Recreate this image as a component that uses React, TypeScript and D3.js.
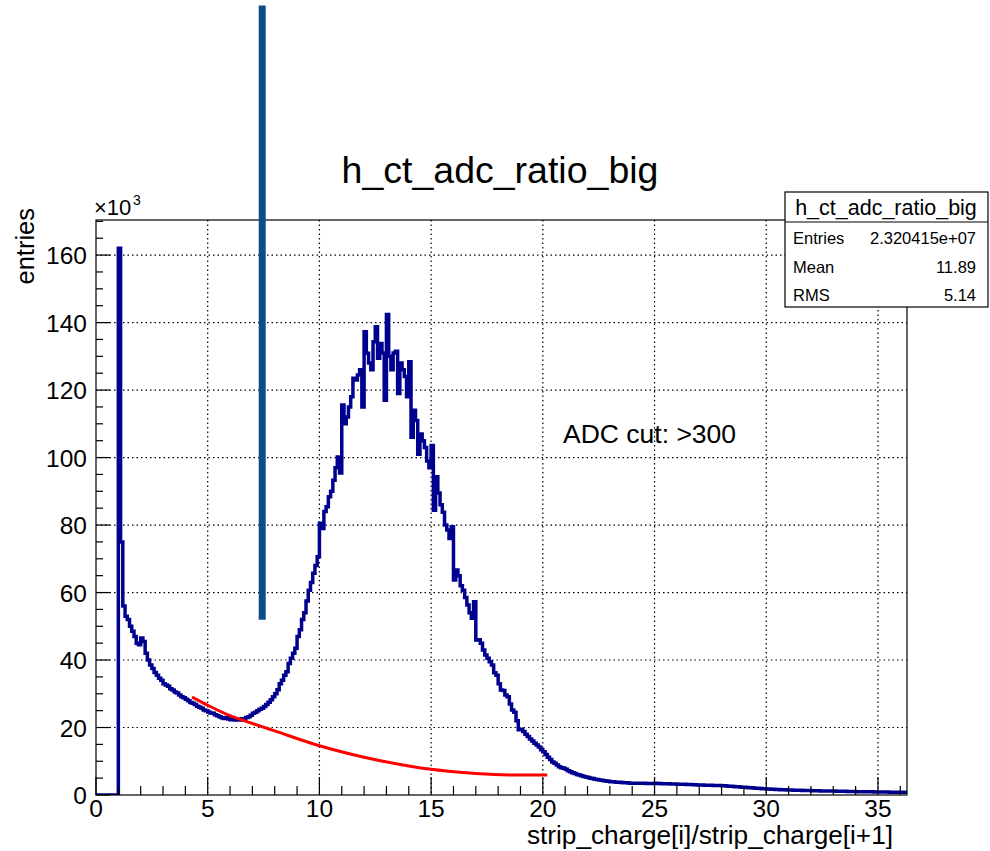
import React from "react";
import * as d3 from "d3";

// ---- data (values in units of 10^3 entries), bins of width 0.1 starting at 0 ----
const BIN_START = 0;
const BIN_WIDTH = 0.1;
const histValues: number[] = [
  // 0.0 - 0.9
  0, 0, 0, 0, 0, 0, 0, 0, 0, 0,
  // 1.0 - 1.9
  162, 75, 56, 53, 52, 50, 48.5, 47, 45, 44.5,
  // 2.0 - 2.9
  46.5, 45.5, 42, 40, 38.5, 37.5, 36.3, 35.5, 34.6, 34,
  // 3.0 - 3.9
  33, 32.6, 32.2, 31.5, 31.1, 30.5, 30.2, 29.6, 29.1, 28.8,
  // 4.0 - 4.9
  28.4, 27.9, 27.4, 27.2, 26.8, 26.3, 26, 25.7, 25.2, 25,
  // 5.0 - 5.9
  24.6, 24.3, 24.2, 23.8, 23.5, 23.2, 22.9, 22.7, 23, 22.5,
  // 6.0 - 6.9
  22.3, 22.6, 22.2, 22.4, 22.2, 22.6, 22.5, 23, 23.2, 23.6,
  // 7.0 - 7.9
  24.2, 24.5, 25, 25.4, 25.7, 26.2, 26.8, 27.5, 28.2, 29.1,
  // 8.0 - 8.9
  30, 31.2, 33, 34, 35.5, 36.5, 39, 40.5, 42, 43.5,
  // 9.0 - 9.9
  47, 49, 52, 54, 57.5, 60.7, 63, 65.7, 68, 70.6,
  // 10.0 - 10.9
  80.5, 79, 84, 85.4, 88.4, 90, 93.3, 97, 100.2, 95.4,
  // 11.0 - 11.9
  115.6, 110, 112, 115, 118, 123.5, 123, 124.5, 126, 115,
  // 12.0 - 12.9
  137.3, 130.9, 128, 126, 134.3, 138.8, 129.4, 133.8, 131, 117,
  // 13.0 - 13.9
  142.4, 130, 126, 131, 131.5, 119, 128, 126, 124, 118,
  // 14.0 - 14.9
  128.4, 106, 114, 111, 101, 107, 105, 103, 99, 97,
  // 15.0 - 15.9
  103.6, 84.4, 94.3, 89.5, 86, 83.8, 80, 78.5, 76, 79.5,
  // 16.0 - 16.9
  63.7, 66.7, 65, 62, 60.7, 58.5, 56.3, 54, 52.4, 57.3,
  // 17.0 - 17.9
  45.9, 46, 45, 43, 41.5, 40.5, 39.5, 38.5, 36.2, 35.5,
  // 18.0 - 18.9
  33, 31.1, 31, 29.6, 29.1, 27, 25.2, 24.5, 22, 19.3,
  // 19.0 - 19.9
  19.5, 18.8, 18, 17.3, 16.6, 16, 15.3, 14.8, 14.2, 13.4,
  // 20.0 - 20.9
  12.8, 12, 11.2, 10.5, 9.8, 9.4, 8.9, 8.4, 8.1, 7.9,
  // 21.0 - 21.9
  7.6, 7.2, 6.9, 6.6, 6.4, 6.1, 5.9, 5.7, 5.5, 5.3,
  // 22.0 - 22.9
  5.2, 5.0, 4.9, 4.7, 4.6, 4.45, 4.35, 4.25, 4.15, 4.05,
  // 23.0 - 23.9
  3.95, 3.9, 3.85, 3.8, 3.75, 3.7, 3.65, 3.6, 3.55, 3.5,
  // 24.0 - 24.9
  3.5, 3.48, 3.47, 3.46, 3.45, 3.45, 3.44, 3.43, 3.42, 3.42,
  // 25.0 - 25.9
  3.45, 3.4, 3.38, 3.36, 3.34, 3.32, 3.3, 3.28, 3.26, 3.24,
  // 26.0 - 26.9
  3.22, 3.2, 3.18, 3.15, 3.12, 3.1, 3.08, 3.05, 3.02, 3.0,
  // 27.0 - 27.9
  2.97, 2.95, 2.92, 2.9, 2.88, 2.86, 2.84, 2.82, 2.8, 2.79,
  // 28.0 - 28.9
  2.77, 2.72, 2.67, 2.62, 2.57, 2.52, 2.47, 2.42, 2.37, 2.32,
  // 29.0 - 29.9
  2.27, 2.22, 2.17, 2.12, 2.07, 2.02, 1.97, 1.92, 1.88, 1.83,
  // 30.0 - 30.9
  1.79, 1.75, 1.71, 1.68, 1.65, 1.62, 1.59, 1.56, 1.53, 1.5,
  // 31.0 - 31.9
  1.48, 1.46, 1.44, 1.42, 1.4, 1.38, 1.36, 1.34, 1.32, 1.3,
  // 32.0 - 32.9
  1.28, 1.27, 1.25, 1.24, 1.22, 1.21, 1.2, 1.19, 1.18, 1.16,
  // 33.0 - 33.9
  1.15, 1.14, 1.12, 1.11, 1.1, 1.08, 1.07, 1.06, 1.04, 1.02,
  // 34.0 - 34.9
  1.0, 0.99, 0.98, 0.97, 0.96, 0.95, 0.94, 0.93, 0.92, 0.91,
  // 35.0 - 35.9
  0.9, 0.89, 0.88, 0.87, 0.86, 0.85, 0.84, 0.83, 0.82, 0.81,
  // 36.0 - 36.2
  0.8, 0.79, 0.78,
];

// red fit curve
const fitX: number[] = [4.3, 5, 6, 7, 8, 10, 12, 14, 15, 17, 19, 20.2];
const fitY: number[] = [29, 26.6, 23.5, 21.2, 19, 14.6, 11.2, 8.6, 7.6, 6.4, 5.9, 5.9];

// vertical annotation bar (data coordinates)
const barX = 7.44;
const barY: number[] = [51.9, 234];

const xTicks: number[] = [0, 5, 10, 15, 20, 25, 30, 35];
const yTicks: number[] = [0, 20, 40, 60, 80, 100, 120, 140, 160];

const statsLabels: string[] = ["Entries", "Mean", "RMS"];
const statsValues: string[] = ["2.320415e+07", "11.89", "5.14"];

const TITLE = "h_ct_adc_ratio_big";
const X_TITLE = "strip_charge[i]/strip_charge[i+1]";
const Y_TITLE = "entries";
const NOTE = "ADC cut: >300";

const W = 990;
const H = 851;
const FONT = "'Liberation Sans', Arial, Helvetica, sans-serif";

export default function App() {
  const left = 96, right = 907, top = 220, bottom = 795;
  const x = d3.scaleLinear().domain([0, 36.3]).range([left, right]);
  const y = d3.scaleLinear().domain([0, 170.4]).range([bottom, top]);

  const pts: [number, number][] = histValues.map((v, i) => [BIN_START + i * BIN_WIDTH, v]);
  pts.push([BIN_START + histValues.length * BIN_WIDTH, histValues[histValues.length - 1]]);
  const histPath = d3
    .line<[number, number]>()
    .x((d) => x(d[0]))
    .y((d) => y(d[1]))
    .curve(d3.curveStepAfter)(pts) as string;

  const fitPts: [number, number][] = fitX.map((v, i) => [v, fitY[i]]);
  const fitPath = d3
    .line<[number, number]>()
    .x((d) => x(d[0]))
    .y((d) => y(d[1]))
    .curve(d3.curveMonotoneX)(fitPts) as string;

  const xMinor = d3.range(0, 37, 1).filter((v) => v % 5 !== 0 && x(v) <= right);
  const yMinor = d3.range(0, 171, 5).filter((v) => v % 20 !== 0 && y(v) >= top);

  return (
    <svg
      width={W}
      height={H}
      style={{ position: "absolute", left: 0, top: 0, background: "#fff" }}
      fontFamily={FONT}
    >
      <rect x={0} y={0} width={W} height={H} fill="#fff" />
      <defs>
        <clipPath id="plotclip">
          <rect x={left} y={top} width={right - left} height={bottom - top} />
        </clipPath>
      </defs>

      {/* grid */}
      <g stroke="#000" strokeWidth={1.2} strokeDasharray="1.5 3">
        {xTicks.filter((t) => t > 0).map((t) => (
          <line key={"gx" + t} x1={x(t)} x2={x(t)} y1={top} y2={bottom} />
        ))}
        {yTicks.filter((t) => t > 0).map((t) => (
          <line key={"gy" + t} x1={left} x2={right} y1={y(t)} y2={y(t)} />
        ))}
      </g>

      {/* histogram + fit */}
      <g clipPath="url(#plotclip)">
        <path d={histPath} fill="none" stroke="#00008f" strokeWidth={3.5} strokeLinejoin="miter" />
        <path d={fitPath} fill="none" stroke="#ff0000" strokeWidth={3} />
      </g>

      {/* frame */}
      <rect x={left} y={top} width={right - left} height={bottom - top} fill="none" stroke="#000" strokeWidth={1.2} />

      {/* ticks */}
      <g stroke="#000" strokeWidth={1.2}>
        {xTicks.map((t) => (
          <line key={"xt" + t} x1={x(t)} x2={x(t)} y1={bottom} y2={bottom - 18} />
        ))}
        {xMinor.map((t) => (
          <line key={"xm" + t} x1={x(t)} x2={x(t)} y1={bottom} y2={bottom - 9} />
        ))}
        {yTicks.map((t) => (
          <line key={"yt" + t} x1={left} x2={left + 14} y1={y(t)} y2={y(t)} />
        ))}
        {yMinor.map((t) => (
          <line key={"ym" + t} x1={left} x2={left + 7} y1={y(t)} y2={y(t)} />
        ))}
      </g>

      {/* tick labels */}
      <g fontSize={24.5} fill="#000">
        {xTicks.map((t) => (
          <text key={"xl" + t} x={x(t)} y={bottom + 22} textAnchor="middle">
            {t}
          </text>
        ))}
        {yTicks.map((t) => (
          <text key={"yl" + t} x={left - 9} y={y(t) + 9} textAnchor="end">
            {t}
          </text>
        ))}
      </g>

      {/* x10^3 */}
      <text x={94} y={215} fontSize={22} fill="#000">
        ×10
      </text>
      <text x={133} y={205} fontSize={14} fill="#000">
        3
      </text>

      {/* axis titles */}
      <text x={893} y={844} fontSize={26.2} textAnchor="end" fill="#000">
        {X_TITLE}
      </text>
      <text
        transform="translate(34,208) rotate(-90)"
        fontSize={25.5}
        textAnchor="end"
        fill="#000"
      >
        {Y_TITLE}
      </text>

      {/* main title */}
      <text x={500} y={183} fontSize={37.5} textAnchor="middle" fill="#000">
        {TITLE}
      </text>

      {/* annotation */}
      <text x={563} y={443} fontSize={26.5} fill="#000">
        {NOTE}
      </text>

      {/* vertical annotation bar */}
      <line
        x1={x(barX)}
        x2={x(barX)}
        y1={y(barY[0])}
        y2={y(barY[1])}
        stroke="#0b4c8a"
        strokeWidth={7}
      />

      {/* stats box */}
      <g>
        <rect x={785} y={192} width={203} height={115} fill="#fff" stroke="#000" strokeWidth={1.2} />
        <line x1={785} x2={988} y1={222} y2={222} stroke="#000" strokeWidth={1.2} />
        <text x={886} y={215} fontSize={21.5} textAnchor="middle" fill="#000">
          {TITLE}
        </text>
        {statsLabels.map((lab, i) => (
          <g key={lab}>
            <text x={793} y={244 + i * 28.5} fontSize={16.5} fill="#000">
              {lab}
            </text>
            <text x={976} y={244 + i * 28.5} fontSize={16.5} textAnchor="end" fill="#000">
              {statsValues[i]}
            </text>
          </g>
        ))}
      </g>
    </svg>
  );
}
